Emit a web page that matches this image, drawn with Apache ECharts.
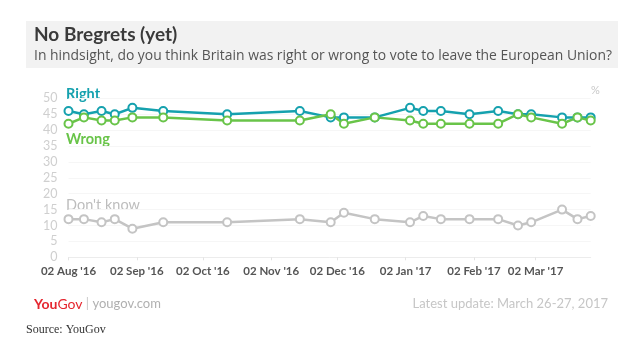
<!DOCTYPE html>
<html>
<head>
<meta charset="utf-8">
<script src="https://cdn.jsdelivr.net/npm/echarts@6/dist/echarts.min.js"></script>
<style>
html,body{margin:0;padding:0;background:#fff;}
#main{width:631px;height:354px;}
</style>
</head>
<body>
<div id="main"></div>
<script>
// ---- data ----
var dates = ['2016-08-02','2016-08-09','2016-08-17','2016-08-23','2016-08-31','2016-09-14','2016-10-13','2016-11-15','2016-11-29','2016-12-05','2016-12-19','2017-01-04','2017-01-10','2017-01-18','2017-01-31','2017-02-13','2017-02-22','2017-02-28','2017-03-14','2017-03-21','2017-03-27'];
var rightVals = [46,45,46,45,47,46,45,46,44,44,44,47,46,46,45,46,45,45,44,44,44];
var wrongVals = [42,44,43,43,44,44,43,43,45,42,44,43,42,42,42,42,45,44,42,44,43];
var dontKnowVals = [12,12,11,12,9,11,11,12,11,14,12,11,13,12,12,12,10,11,15,12,13];
var tickDates = ['2016-08-02','2016-09-02','2016-10-02','2016-11-02','2016-12-02','2017-01-02','2017-02-02','2017-03-02'];
var yTicks = [0,5,10,15,20,25,30,35,40,45,50];
var axisStart = '2016-08-02';
var axisEnd = '2017-03-27';

function ts(s){var p=s.split('-');return Date.UTC(+p[0],+p[1]-1,+p[2]);}
var months=['Jan','Feb','Mar','Apr','May','Jun','Jul','Aug','Sep','Oct','Nov','Dec'];
function fmt(v){var d=new Date(v);var dd=d.getUTCDate();return (dd<10?'0':'')+dd+' '+months[d.getUTCMonth()]+" '"+String(d.getUTCFullYear()).slice(2);}
function pairs(arr){return dates.map(function(d,i){return [ts(d),arr[i]];});}

var TEAL='#15a1ae', GREEN='#69c449', GRAY='#c4c4c4';
function ser(name,arr,color){
  return {name:name,type:'line',data:pairs(arr),symbol:'circle',symbolSize:8,
    lineStyle:{color:color,width:2.5},
    itemStyle:{color:'#fff',borderColor:color,borderWidth:2},
    emphasis:{disabled:true},animation:false};
}
var chart=echarts.init(document.getElementById('main'),null,{renderer:'canvas'});
var FONT='Lato';
var tickTs=tickDates.map(ts);
chart.setOption({
  animation:false,
  backgroundColor:'#fff',
  grid:{left:68.5,right:40.3,top:98.3,bottom:96.7},
  xAxis:{type:'value',min:ts(axisStart),max:ts(axisEnd),scale:true,
    axisLine:{show:true,lineStyle:{color:'#ececec',width:1}},
    axisTick:{show:true,customValues:tickTs,length:3,lineStyle:{color:'#e4e4e4'}},
    axisLabel:{customValues:tickTs,formatter:function(v){return fmt(v);},color:'#555',fontFamily:FONT,fontWeight:'bold',fontSize:11.5,margin:8,hideOverlap:false},
    splitLine:{show:false}},
  yAxis:{type:'value',min:yTicks[0],max:yTicks[yTicks.length-1],interval:5,
    axisLine:{show:false},axisTick:{show:false},
    axisLabel:{color:'#cfcfcf',fontFamily:FONT,fontSize:12.5,margin:11},
    splitLine:{show:true,lineStyle:{color:'#f6f6f6',width:1}}},
  series:[ser('Right',rightVals,TEAL),ser('Wrong',wrongVals,GREEN),ser("Don't know",dontKnowVals,GRAY)],
  graphic:[
    {type:'rect',left:26,top:21,shape:{width:592,height:47},style:{fill:'#f2f2f2'},z:-1},
    {type:'text',left:34,top:25,style:{text:'No Bregrets (yet)',fill:'#3a3a3a',font:'bold 19px '+FONT}},
    {type:'text',left:34,top:49,style:{text:'In hindsight, do you think Britain was right or wrong to vote to leave the European Union?',fill:'#555',font:'13.9px "Open Sans"'}},
    {type:'text',left:66,top:87,style:{text:'Right',fill:TEAL,font:'bold 14.5px '+FONT}},
    {type:'text',left:66,top:132,style:{text:'Wrong',fill:GREEN,font:'bold 14.5px '+FONT}},
    {type:'text',left:66,top:198,style:{text:"Don't know",fill:'#bdbdbd',font:'14.5px '+FONT}},
    {type:'text',left:591,top:85,style:{text:'%',fill:'#c8c8c8',font:'11px '+FONT}},
    {type:'text',left:34,top:297,style:{rich:{a:{fill:'#e5262f',font:'bold 14px '+FONT},b:{fill:'#e5262f',font:'14px '+FONT},c:{fill:'#c8c8c8',font:'13px '+FONT},d:{fill:'#b0b0b0',font:'13px '+FONT}},text:'{a|You}{b|Gov} {c|| }{d|yougov.com}'}},
    {type:'text',right:23,top:297,style:{text:'Latest update: March 26-27, 2017',fill:'#c6c6c6',font:'13px '+FONT,align:'right'}},
    {type:'text',left:26,top:324,style:{text:'Source: YouGov',fill:'#333',font:'12px "Liberation Serif"'}}
  ]
});
</script>
</body>
</html>
